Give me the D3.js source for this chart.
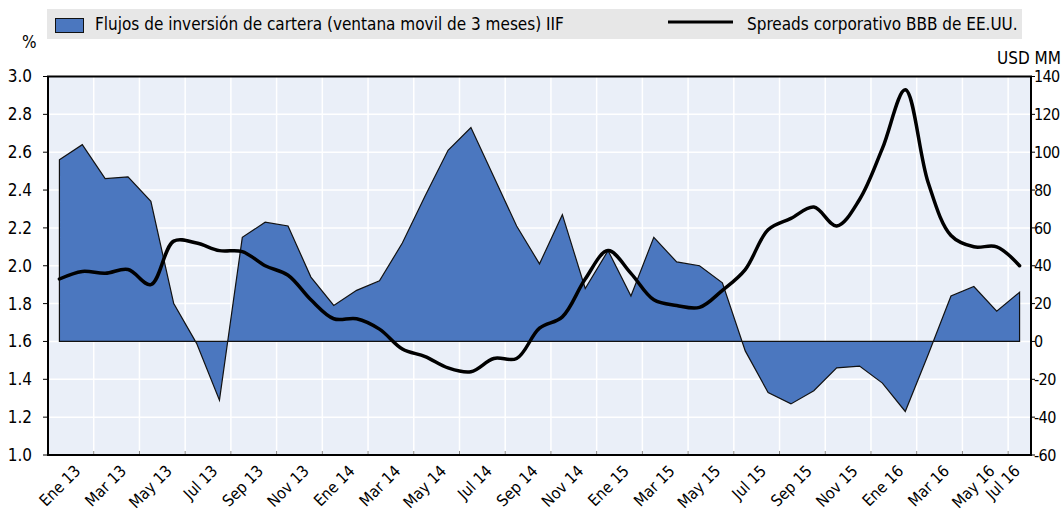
<!DOCTYPE html>
<html>
<head>
<meta charset="utf-8">
<script src="https://cdn.jsdelivr.net/npm/d3@7"></script>
<style>
  body { margin: 0; background: #fff; }
  svg text { font-family: "Liberation Sans Narrow", "Arial Narrow", "DejaVu Sans Condensed", sans-serif; fill: #000; }
</style>
</head>
<body>
<div id="chart"></div>
<script>
// Categories (monthly, Ene 13 - Jul 16)
const months = [
  'Ene 13','Feb 13','Mar 13','Abr 13','May 13','Jun 13','Jul 13','Ago 13','Sep 13','Oct 13','Nov 13','Dic 13',
  'Ene 14','Feb 14','Mar 14','Abr 14','May 14','Jun 14','Jul 14','Ago 14','Sep 14','Oct 14','Nov 14','Dic 14',
  'Ene 15','Feb 15','Mar 15','Abr 15','May 15','Jun 15','Jul 15','Ago 15','Sep 15','Oct 15','Nov 15','Dic 15',
  'Ene 16','Feb 16','Mar 16','Abr 16','May 16','Jun 16','Jul 16'
];

// Portfolio flows, USD MM (right axis)
const flows = [96, 104, 86, 87, 74, 20, -1, -31, 55, 63, 61, 34,
  19, 27, 32, 52, 77, 101, 113, 87, 61, 41, 67, 28,
  48, 24, 55, 42, 40, 31, -5, -27, -33, -26, -14, -13,
  -22, -37, -7, 24, 29, 16, 26];

// US BBB corporate spreads, % (left axis)
const spreads = [1.93, 1.97, 1.96, 1.98, 1.90, 2.13, 2.12, 2.08, 2.075, 2.00, 1.95, 1.82,
  1.72, 1.72, 1.665, 1.56, 1.52, 1.46, 1.44, 1.51, 1.51, 1.67, 1.73, 1.93,
  2.08, 1.96, 1.82, 1.79, 1.78, 1.87, 1.98, 2.19, 2.25, 2.31, 2.21, 2.35,
  2.62, 2.93, 2.44, 2.16, 2.10, 2.10, 2.00];

const leftTicks = [1.0, 1.2, 1.4, 1.6, 1.8, 2.0, 2.2, 2.4, 2.6, 2.8, 3.0];
const rightTicks = [-60, -40, -20, 0, 20, 40, 60, 80, 100, 120, 140];

const legendFlows = 'Flujos de inversión de cartera (ventana movil de 3 meses) IIF';
const legendSpreads = 'Spreads corporativo BBB de EE.UU.';

const width = 1063, height = 515;
const plot = { left: 48, right: 1031, top: 76.5, bottom: 455 };

const svg = d3.select('#chart').append('svg')
  .attr('width', width)
  .attr('height', height);

const x = d3.scaleBand().domain(months).range([plot.left, plot.right]).padding(0);
const cx = d => x(d) + x.bandwidth() / 2;
const yL = d3.scaleLinear().domain([1, 3]).range([plot.bottom, plot.top]);
const yR = d3.scaleLinear().domain([-60, 140]).range([plot.bottom, plot.top]);

// Plot background
svg.append('rect')
  .attr('x', plot.left).attr('y', plot.top)
  .attr('width', plot.right - plot.left).attr('height', plot.bottom - plot.top)
  .attr('fill', '#eaeff8');

// Gridlines
const labelIdx = months.map((m, i) => i).filter(i => i % 2 === 0);
svg.append('g').selectAll('line')
  .data(labelIdx.filter(i => i > 0))
  .enter().append('line')
  .attr('x1', i => x(months[i])).attr('x2', i => x(months[i]))
  .attr('y1', plot.top).attr('y2', plot.bottom)
  .attr('stroke', '#fff').attr('stroke-width', 1.5);

svg.append('g').selectAll('line')
  .data(leftTicks.slice(1, -1))
  .enter().append('line')
  .attr('x1', plot.left).attr('x2', plot.right)
  .attr('y1', d => yL(d)).attr('y2', d => yL(d))
  .attr('stroke', '#fff').attr('stroke-width', 1.5);

// Bottom tick marks (inward)
svg.append('g').selectAll('line')
  .data(labelIdx.filter(i => i > 0))
  .enter().append('line')
  .attr('x1', i => x(months[i])).attr('x2', i => x(months[i]))
  .attr('y1', plot.bottom - 4).attr('y2', plot.bottom)
  .attr('stroke', '#888').attr('stroke-width', 1);

// Area for flows
const data = months.map((m, i) => ({ m, f: flows[i], s: spreads[i] }));
const area = d3.area()
  .x(d => cx(d.m))
  .y0(yR(0))
  .y1(d => yR(d.f));
svg.append('path')
  .datum(data)
  .attr('d', area)
  .attr('fill', '#4b77bf')
  .attr('stroke', '#111')
  .attr('stroke-width', 1.2)
  .attr('stroke-linejoin', 'miter');

// Line for spreads
const line = d3.line()
  .x(d => cx(d.m))
  .y(d => yL(d.s))
  .curve(d3.curveCatmullRom.alpha(0.5));
svg.append('path')
  .datum(data)
  .attr('d', line)
  .attr('fill', 'none')
  .attr('stroke', '#000')
  .attr('stroke-width', 3.5)
  .attr('stroke-linecap', 'round');

// Frame
svg.append('rect')
  .attr('x', plot.left).attr('y', plot.top)
  .attr('width', plot.right - plot.left).attr('height', plot.bottom - plot.top)
  .attr('fill', 'none')
  .attr('stroke', '#000').attr('stroke-width', 2);

// Left axis
const leftAxis = svg.append('g');
leftAxis.selectAll('line')
  .data(leftTicks)
  .enter().append('line')
  .attr('x1', plot.left - 5).attr('x2', plot.left)
  .attr('y1', d => yL(d)).attr('y2', d => yL(d))
  .attr('stroke', '#000').attr('stroke-width', 1);
leftAxis.selectAll('text')
  .data(leftTicks)
  .enter().append('text')
  .attr('x', 32).attr('y', d => yL(d))
  .attr('dy', '0.35em')
  .attr('text-anchor', 'end')
  .style('font-size', '17px')
  .text(d => d3.format('.1f')(d));

// Right axis
const rightAxis = svg.append('g');
rightAxis.selectAll('line')
  .data(rightTicks)
  .enter().append('line')
  .attr('x1', plot.right).attr('x2', plot.right + 4)
  .attr('y1', d => yR(d)).attr('y2', d => yR(d))
  .attr('stroke', '#000').attr('stroke-width', 1);
rightAxis.selectAll('text')
  .data(rightTicks)
  .enter().append('text')
  .attr('x', 1034).attr('y', d => yR(d))
  .attr('dy', '0.35em')
  .attr('text-anchor', 'start')
  .style('font-size', '16px')
  .style('letter-spacing', '-0.6px')
  .text(d => d);

// Axis units
svg.append('text')
  .attr('x', 22).attr('y', 48)
  .style('font-size', '17px')
  .text('%');
svg.append('text')
  .attr('x', 1061).attr('y', 64)
  .attr('text-anchor', 'end')
  .style('font-size', '17px')
  .text('USD MM');

// X labels
svg.append('g').selectAll('text')
  .data(labelIdx)
  .enter().append('text')
  .attr('transform', i => {
    const px = Math.min(cx(months[i]) + 22, plot.right - 10);
    return `translate(${px},${plot.bottom + 17}) rotate(-45)`;
  })
  .attr('text-anchor', 'end')
  .style('font-size', '16px')
  .text(i => months[i]);

// Legend
svg.append('rect')
  .attr('x', 47).attr('y', 9)
  .attr('width', 975).attr('height', 30)
  .attr('fill', '#e7e7e7');
svg.append('rect')
  .attr('x', 55.5).attr('y', 18.5)
  .attr('width', 28).attr('height', 14)
  .attr('fill', '#4b77bf')
  .attr('stroke', '#111').attr('stroke-width', 1);
svg.append('text')
  .attr('x', 95).attr('y', 30)
  .style('font-size', '17px')
  .text(legendFlows);
svg.append('line')
  .attr('x1', 668).attr('x2', 733)
  .attr('y1', 22).attr('y2', 22)
  .attr('stroke', '#000').attr('stroke-width', 3);
svg.append('text')
  .attr('x', 747).attr('y', 30)
  .style('font-size', '17px')
  .text(legendSpreads);
</script>
</body>
</html>
